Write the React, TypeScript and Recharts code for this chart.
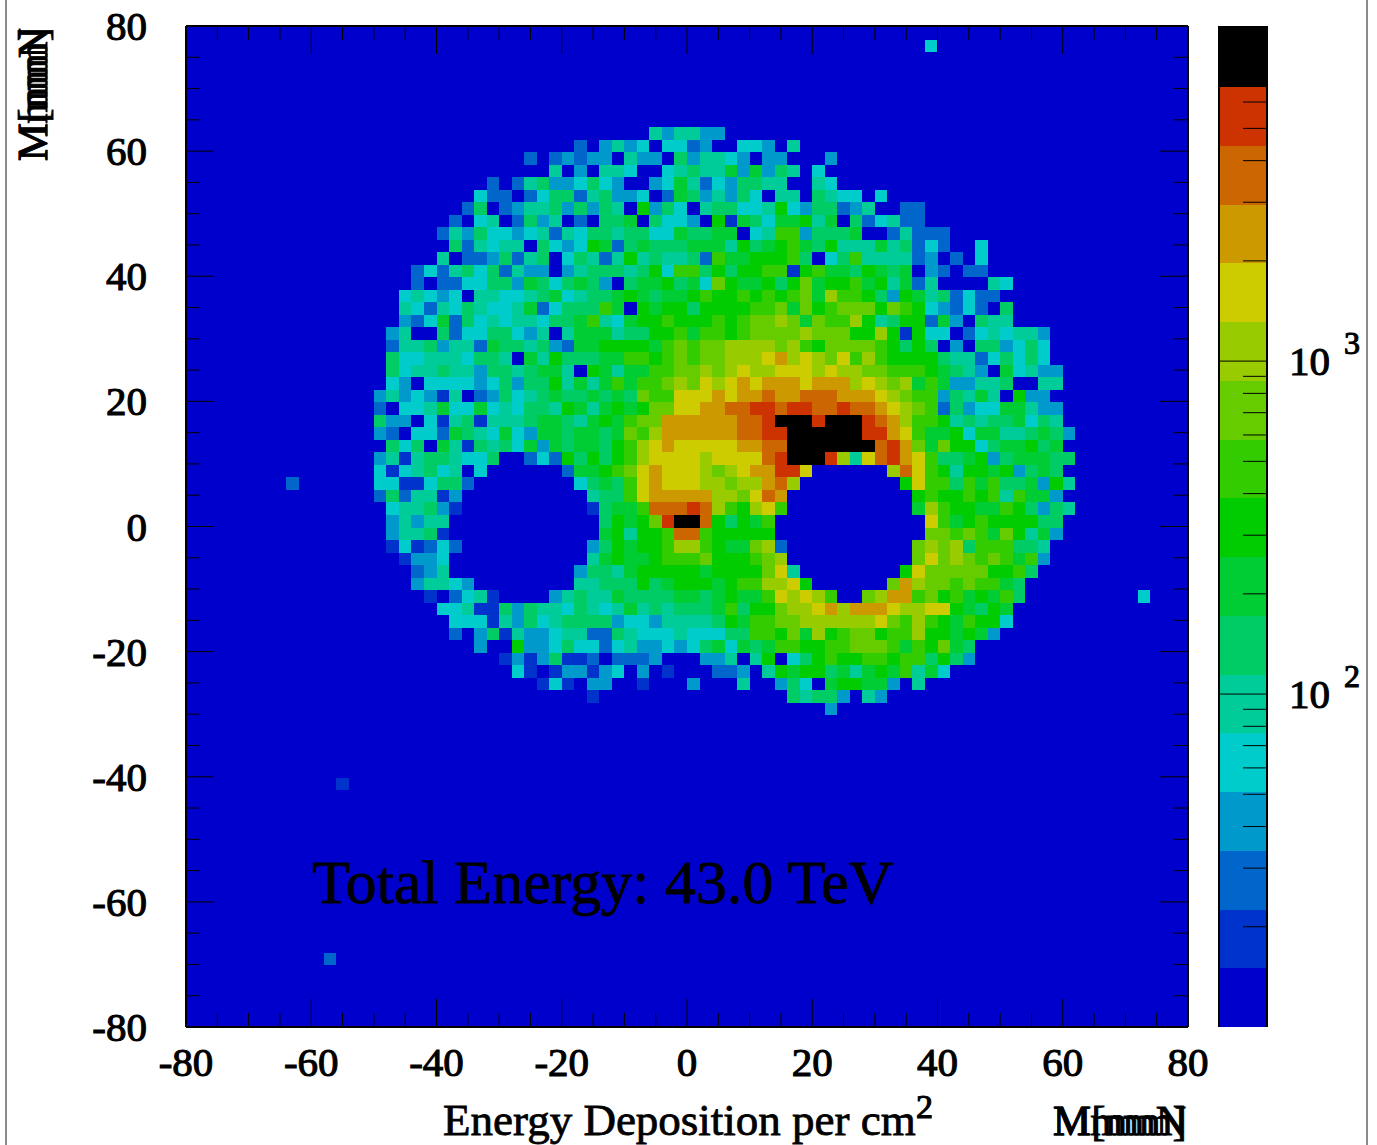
import {
	CartesianGrid,
	ReferenceArea,
	Scatter,
	ScatterChart,
	XAxis,
	YAxis,
} from "recharts";

const LEVEL_COLORS = [
	"#0000cc", "#0033cc", "#0066cc", "#0099cc", "#00cccc", "#00cc99",
	"#00cc66", "#00cc33", "#00cc00", "#33cc00", "#66cc00", "#99cc00",
	"#cccc00", "#cc9900", "#cc6600", "#cc3300", "#000000",
];
const LEVEL_EDGES = [
	10, 15.01, 22.53, 33.8, 50.8, 76.2, 114.4, 171.7, 257.8, 387, 581, 872,
	1309, 1966, 2951, 4431, 6652, 10150,
];
const AXIS_TICKS = [
	-80, -75, -70, -65, -60, -55, -50, -45, -40, -35, -30, -25, -20, -15, -10,
	-5, 0, 5, 10, 15, 20, 25, 30, 35, 40, 45, 50, 55, 60, 65, 70, 75, 80,
];
const Z_TICKS = [
	20, 30, 40, 50, 60, 70, 80, 90, 100, 200, 300, 400, 500, 600, 700, 800, 900,
	1000, 2000, 3000, 4000, 5000, 6000, 7000, 8000, 9000,
];

// one colour level per 2 mm bin, rows start at y = 64 mm, columns at x = -50 mm
const FIRST_ROW = 8;
const FIRST_COL = 15;
const HEAT_ROWS = [
	"0000000000 0000000000 0053553300 0000000000 0000000000 0000000",
	"0000000000 0000002035 3404423004 4305000000 0000000000 0000000",
	"0000000000 0020232330 5330635543 0330003000 0000000000 0000000",
	"0000000000 0000503055 4004565573 7365040000 0000000000 0000000",
	"0000000002 0256334643 0034752436 6550054000 0000000000 0000000",
	"0000000042 2024662563 3402763536 4055065440 4000000000 0000000",
	"0000000260 2355636365 0836405664 4584366235 0022000000 0000000",
	"0000002045 0263502066 7064430817 6477857062 4522000000 0000000",
	"0000025364 4345254665 6644766770 4599366670 0252220000 0000000",
	"0000006254 5506434872 6766677758 6789768555 7562420040 0000000",
	"0000050223 6256046525 8565562977 8889604695 5552302040 0000000",
	"0002425646 2533035666 5684996868 8991897768 7670320220 0000000",
	"0002022446 6376467630 6778674a87 7868a78897 8572500005 4000000",
	"0045434055 4456745667 8767789889 8989a7b998 6387562422 0000000",
	"0054254654 4572466697 0878868888 99a7a89aaa 8a98432420 6000000",
	"0032472645 4554667954 7889888989 aaba7a99b8 5688273065 5000000",
	"0350062446 6435057775 6688979989 aaaabaaa88 b818440245 4553000",
	"0255635527 6656327788 8879a9aabb bbab98aaaa 9868603066 3464000",
	"0644555466 5075866677 9989a9aabb bcdbcbac9b 9888865524 6464000",
	"0645565536 6567750875 7799aababc bbcccbcbba a999876530 7453300",
	"0430444434 6366857579 799abacbcd cdddcdddbc bab7973355 6005500",
	"3534315023 6456766767 6a99cccdcd deddeeeddd cba9936575 0833000",
	"2044574474 5466587578 78aaccddee ffeffeefee dcba926344 7753300",
	"6330415615 5567765787 9aadddddde efgggfgggf edb9985656 6746500",
	"3204427654 7437767767 a9bdddddde effggggggf fdc9778477 5567630",
	"0646075165 6473767768 9bcdcccccd deeggggggg efda7a8846 7786700",
	"3515665446 0024286868 9bccccbccc cefgggfb5c efdc966783 6777660",
	"4145645040 0000027789 acdcccbabc ddffc00000 0bec985887 8367600",
	"4411466200 0000004676 9cdcccbbab bdeb000000 008c996979 6673850",
	"2625513000 0000000566 9cdddddbba ced0000000 0008988989 5977300",
	"0455631000 0000000167 79eeefeb98 bc90000000 0007b98877 9863650",
	"0353550000 0000000068 78afgge868 7900000000 0000c97898 8886600",
	"0355610000 0000000078 5889ee9888 8800000000 0000aa9a97 a857300",
	"0141242000 0000000368 7889bb9877 ab20000000 000abab699 9665000",
	"0013340000 0000000578 778999a888 9ab0000000 000acaba9a 9793000",
	"0002350000 0000003665 7888887888 8ac5000000 008caaaaa8 8960000",
	"0003554300 0000005566 6867888789 9bbc800000 0adbaa9a99 7600000",
	"0000102451 0000356557 6666776787 79cbcb900a bdd9a89787 9600000",
	"0000044511 6365546545 7565666796 88abbcdbdd dcbbcc8768 7000000",
	"0000004441 5364566663 4435555687 99aabbbbbb ca9b987988 4000000",
	"0000002036 1533455226 5444544466 998a7b89aa 899b887873 0000000",
	"0000000030 0833464424 5334346747 67998899aa a9798a7600 0000000",
	"0000000000 1313611202 2230003350 5804689889 9899686300 0000000",
	"0000000000 0410133134 0301000223 0587886757 8795740000 0000000",
	"0000000000 0001410330 0100030005 0036407887 7305000000 0000000",
	"0000000000 0000000100 0000000000 0006566305 3000000000 0000000",
	"0000000000 0000000000 0000000000 0000003000 0000000000 0000000",
];
// isolated hits outside the ring: column, row, level
const STRAY_COLS = [59, 8, 76, 12, 11];
const STRAY_ROWS = [1, 36, 45, 60, 74];
const STRAY_LEVELS = [4, 2, 4, 1, 2];

const LEVEL_CHARS = "0123456789abcdefg";
const toX = (col: number) => -80 + 2 * col + 1;
const toY = (row: number) => 80 - 2 * row - 1;

const cells = HEAT_ROWS.flatMap((line, r) =>
	line
		.replace(/ /g, "")
		.split("")
		.map((ch, c) => ({
			x: toX(FIRST_COL + c),
			y: toY(FIRST_ROW + r),
			level: LEVEL_CHARS.indexOf(ch),
		}))
		.filter((cell) => cell.level > 0),
).concat(
	STRAY_COLS.map((col, i) => ({
		x: toX(col),
		y: toY(STRAY_ROWS[i]),
		level: STRAY_LEVELS[i],
	})),
);

// anchor points for the colour bar, so its scales have a series to work from
const barAnchors = LEVEL_EDGES.map((edge) => ({ x: 0.5, z: edge }));

const SERIF = "'Liberation Serif', serif";
const PLOT_LEFT = 186;
const PLOT_RIGHT = 1188;
const PLOT_TOP = 26;
const PLOT_BOTTOM = 1027;
const BIN_W = (PLOT_RIGHT - PLOT_LEFT) / 80;
const BIN_H = (PLOT_BOTTOM - PLOT_TOP) / 80;
const BAR_LEFT = 1219;
const BAR_RIGHT = 1267;

const textStyle = {
	fontFamily: SERIF,
	fill: "#000",
	stroke: "#000",
	strokeWidth: 1.1,
};

function HeatCell({ cx, cy, payload }: any) {
	return (
		<rect
			x={cx - BIN_W / 2}
			y={cy - BIN_H / 2 + 1}
			width={BIN_W}
			height={BIN_H}
			fill={LEVEL_COLORS[payload.level]}
			shapeRendering="crispEdges"
		/>
	);
}

function NoMark() {
	return <g />;
}

function tickLength(value: number) {
	return value % 20 === 0 ? 28 : 14;
}

function BottomTick({ x, payload }: any) {
	const v = payload.value;
	return (
		<g>
			<line x1={x} x2={x} y1={PLOT_BOTTOM} y2={PLOT_BOTTOM - tickLength(v)} stroke="#000" />
			{v % 20 === 0 && (
				<text x={x} y={1076} textAnchor="middle" fontSize={41} style={textStyle}>
					{v}
				</text>
			)}
		</g>
	);
}

function TopTick({ x, payload }: any) {
	return <line x1={x} x2={x} y1={PLOT_TOP} y2={PLOT_TOP + tickLength(payload.value)} stroke="#000" />;
}

function LeftTick({ y, payload }: any) {
	const v = payload.value;
	return (
		<g>
			<line x1={PLOT_LEFT} x2={PLOT_LEFT + tickLength(v)} y1={y} y2={y} stroke="#000" />
			{v % 20 === 0 && (
				<text x={147} y={y + 14} textAnchor="end" fontSize={41} style={textStyle}>
					{v}
				</text>
			)}
		</g>
	);
}

function RightTick({ y, payload }: any) {
	return <line x1={PLOT_RIGHT} x2={PLOT_RIGHT - tickLength(payload.value)} y1={y} y2={y} stroke="#000" />;
}

function ZTick({ y, payload }: any) {
	const v = payload.value;
	const major = v === 100 || v === 1000;
	return (
		<g>
			<line x1={BAR_RIGHT} x2={major ? BAR_LEFT : BAR_RIGHT - 24} y1={y} y2={y} stroke="#000" />
			{major && (
				<g>
					<text x={1289} y={y + 14} fontSize={41} style={textStyle}>
						10
					</text>
					<text x={1344} y={y - 7} fontSize={32} style={textStyle}>
						{v === 100 ? 2 : 3}
					</text>
				</g>
			)}
		</g>
	);
}

export default function App() {
	return (
		<div style={{ position: "absolute", left: 0, top: 0, width: 1377, height: 1145, overflow: "hidden", background: "#fff" }}>
			<div style={{ position: "absolute", left: 5, top: -4, width: 1359, height: 1160, border: "2px solid #8c8c8c" }} />
			<div style={{ position: "absolute", left: 0, top: 0 }}>
				<ScatterChart
					width={1377}
					height={1145}
					margin={{ top: PLOT_TOP - 1, right: 1377 - PLOT_RIGHT - 1, bottom: 1145 - PLOT_BOTTOM - 1, left: PLOT_LEFT - 1 }}
				>
					<CartesianGrid xAxisId="bottom" yAxisId="left" horizontal={false} vertical={false} fill="#0000cc" fillOpacity={1} />
					<Scatter
						data={cells}
						dataKey="y"
						xAxisId="bottom"
						yAxisId="left"
						shape={HeatCell}
						isAnimationActive={false}
					/>
					<Scatter
						data={cells.slice(0, 1)}
						dataKey="y"
						xAxisId="top"
						yAxisId="right"
						shape={NoMark}
						isAnimationActive={false}
					/>
					<XAxis
						xAxisId="bottom"
						type="number"
						dataKey="x"
						domain={[-80, 80]}
						ticks={AXIS_TICKS}
						interval={0}
						height={1}
						tickLine={false}
						tick={BottomTick}
						axisLine={{ stroke: "#000", strokeWidth: 2 }}
					/>
					<XAxis
						xAxisId="top"
						orientation="top"
						type="number"
						dataKey="x"
						domain={[-80, 80]}
						ticks={AXIS_TICKS}
						interval={0}
						height={1}
						tickLine={false}
						tick={TopTick}
						axisLine={{ stroke: "#000", strokeWidth: 2 }}
					/>
					<YAxis
						yAxisId="left"
						type="number"
						dataKey="y"
						domain={[-80, 80]}
						ticks={AXIS_TICKS}
						interval={0}
						width={1}
						tickLine={false}
						tick={LeftTick}
						axisLine={{ stroke: "#000", strokeWidth: 2 }}
					/>
					<YAxis
						yAxisId="right"
						orientation="right"
						type="number"
						dataKey="y"
						domain={[-80, 80]}
						ticks={AXIS_TICKS}
						interval={0}
						width={1}
						tickLine={false}
						tick={RightTick}
						axisLine={{ stroke: "#000", strokeWidth: 2 }}
					/>
				</ScatterChart>
			</div>
			<div style={{ position: "absolute", left: 0, top: 0 }}>
				<ScatterChart
					width={1377}
					height={1145}
					margin={{ top: PLOT_TOP, right: 1377 - BAR_RIGHT - 1, bottom: 1145 - PLOT_BOTTOM, left: BAR_LEFT - 1 }}
				>
					<XAxis type="number" dataKey="x" domain={[0, 1]} hide />
					<Scatter data={barAnchors} dataKey="z" yAxisId="z" shape={NoMark} isAnimationActive={false} />
					<Scatter data={barAnchors} dataKey="z" yAxisId="edge" shape={NoMark} isAnimationActive={false} />
					{LEVEL_COLORS.map((color, i) => (
						<ReferenceArea
							key={color}
							yAxisId="z"
							x1={0}
							x2={1}
							y1={LEVEL_EDGES[i]}
							y2={LEVEL_EDGES[i + 1]}
							fill={color}
							fillOpacity={1}
							stroke="none"
							shapeRendering="crispEdges"
						/>
					))}
					<YAxis
						yAxisId="z"
						orientation="right"
						type="number"
						dataKey="z"
						scale="log"
						domain={[10, 10150]}
						allowDataOverflow
						ticks={Z_TICKS}
						interval={0}
						width={1}
						tickLine={false}
						tick={ZTick}
						axisLine={{ stroke: "#000", strokeWidth: 2 }}
					/>
					<YAxis
						yAxisId="edge"
						orientation="left"
						type="number"
						dataKey="z"
						scale="log"
						domain={[10, 10150]}
						allowDataOverflow
						width={1}
						tickLine={false}
						tick={false}
						axisLine={{ stroke: "#000", strokeWidth: 2 }}
					/>
				</ScatterChart>
			</div>
			<svg width={1377} height={1145} style={{ position: "absolute", left: 0, top: 0 }}>
				<text x={312} y={903} fontSize={62} style={{ ...textStyle, strokeWidth: 0.8 }}>
					Total Energy: 43.0 TeV
				</text>
				<text x={443} y={1135} fontSize={45} style={{ ...textStyle, strokeWidth: 0.8 }}>
					Energy Deposition per cm
				</text>
				<text x={916} y={1118} fontSize={34} style={textStyle}>
					2
				</text>
				<text x={1053} y={1135} fontSize={43} style={{ ...textStyle, strokeWidth: 0.8 }}>
					M[mm]
				</text>
				<text x={1053} y={1135} fontSize={42} style={{ ...textStyle, strokeWidth: 0.8 }}>
					MmmN
				</text>
				<g transform="translate(47 161) rotate(-90)">
					<text x={0} y={0} fontSize={43} style={{ ...textStyle, strokeWidth: 0.8 }}>
						M[mm]
					</text>
					<text x={0} y={0} fontSize={42} style={{ ...textStyle, strokeWidth: 0.8 }}>
						MmmN
					</text>
				</g>
			</svg>
		</div>
	);
}
